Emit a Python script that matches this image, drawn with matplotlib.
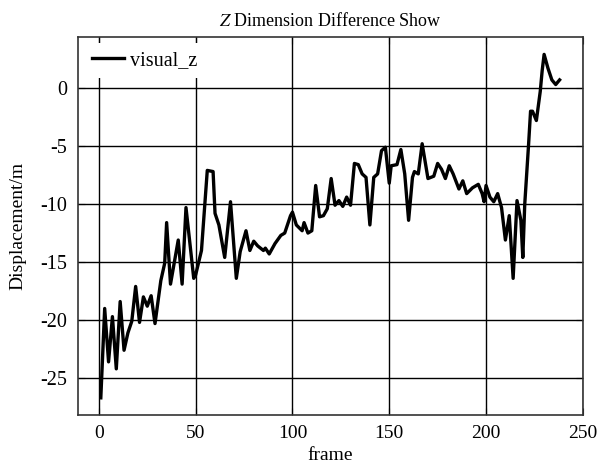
import matplotlib
matplotlib.use('Agg')
import matplotlib.pyplot as plt

frames = [1, 3, 5, 7, 9, 11, 13, 15, 17, 19, 21, 23, 25, 27, 29, 32, 34, 35,
          37, 41, 43, 45, 49, 50, 53, 56, 59, 60, 62, 65, 68, 71, 73, 76, 78,
          80, 82, 85, 86, 88, 91, 94, 96, 99, 100, 102, 105, 106, 108, 110,
          112, 114, 116, 118, 120, 122, 124, 126, 128, 130, 132, 134, 136,
          138, 140, 142, 144, 146, 148, 150, 151, 154, 156, 158, 160, 162,
          163, 165, 167, 170, 173, 175, 177, 179, 181, 183, 186, 188, 190,
          193, 196, 198, 199, 200, 202, 204, 206, 208, 210, 212, 214, 216,
          218, 219, 220, 222, 223, 224, 226, 228, 229, 230, 232, 234, 236,
          238]
visual_z = [-26.7, -19.0, -23.6, -19.7, -24.2, -18.4, -22.6, -21.1, -20.1,
            -17.1, -20.2, -18.0, -18.8, -17.9, -20.3, -16.6, -15.1, -11.6,
            -16.9, -13.1, -16.9, -10.3, -16.4, -16.1, -14.0, -7.1, -7.2,
            -10.8, -11.8, -14.6, -9.8, -16.4, -14.1, -12.3, -14.0, -13.2,
            -13.6, -14.0, -13.8, -14.3, -13.4, -12.7, -12.5, -11.0, -10.7,
            -11.8, -12.3, -11.6, -12.5, -12.3, -8.4, -11.1, -11.0, -10.4,
            -7.8, -10.1, -9.7, -10.2, -9.4, -10.1, -6.5, -6.6, -7.4, -7.7,
            -11.8, -7.7, -7.4, -5.4, -5.1, -8.2, -6.7, -6.6, -5.3, -7.4,
            -11.4, -7.7, -7.2, -7.4, -4.8, -7.8, -7.6, -6.5, -7.0, -7.8,
            -6.7, -7.4, -8.7, -8.0, -9.1, -8.6, -8.3, -9.1, -9.8, -8.4, -9.4,
            -9.8, -9.1, -10.3, -13.1, -11.0, -16.4, -9.7, -11.4, -14.6,
            -10.0, -4.8, -2.0, -2.0, -2.8, -0.3, 1.5, 2.9, 1.7, 0.7, 0.3, 0.7]


def main():
    plt.rcParams['font.family'] = ['Liberation Serif', 'DejaVu Serif']
    plt.rcParams['font.size'] = 14
    plt.rcParams['mathtext.fontset'] = 'stix'
    plt.rcParams['axes.unicode_minus'] = False

    fig = plt.figure(figsize=(5.99, 4.65), dpi=100)
    ax = fig.add_axes([0.130, 0.1075, 0.843, 0.8125])

    ax.plot(frames, visual_z, color='black', linewidth=2.4, label='visual_z')

    ax.grid(True, color='black', linewidth=1.0)
    ax.set_axisbelow(True)
    ax.set_xticks([0, 50, 100, 150, 200, 250])
    ax.set_yticks([0, -5, -10, -15, -20, -25])
    ax.tick_params(direction='in', length=5, top=True, right=True,
                   labelsize=14)
    ax.tick_params(axis='y', pad=8, labelsize=14.5)
    ax.tick_params(axis='x', pad=7)
    for sp in ax.spines.values():
        sp.set_linewidth(1.2)
        sp.set_color('#333333')

    ax.set_title('$Z$ Dimension Difference Show', fontsize=13, pad=8)
    ax.set_xlabel('frame', fontsize=14, labelpad=4)
    ax.set_ylabel('Displacement/m', fontsize=14, labelpad=10)

    leg = ax.legend(loc='upper left', fontsize=14.5, handlelength=1.6,
                    handletextpad=0.3, borderaxespad=0.3, fancybox=False,
                    framealpha=1.0)
    leg.get_frame().set_edgecolor('white')
    leg.get_frame().set_linewidth(0)

    fig.savefig('out.png', dpi=100)


if __name__ == "__main__":
    main()
